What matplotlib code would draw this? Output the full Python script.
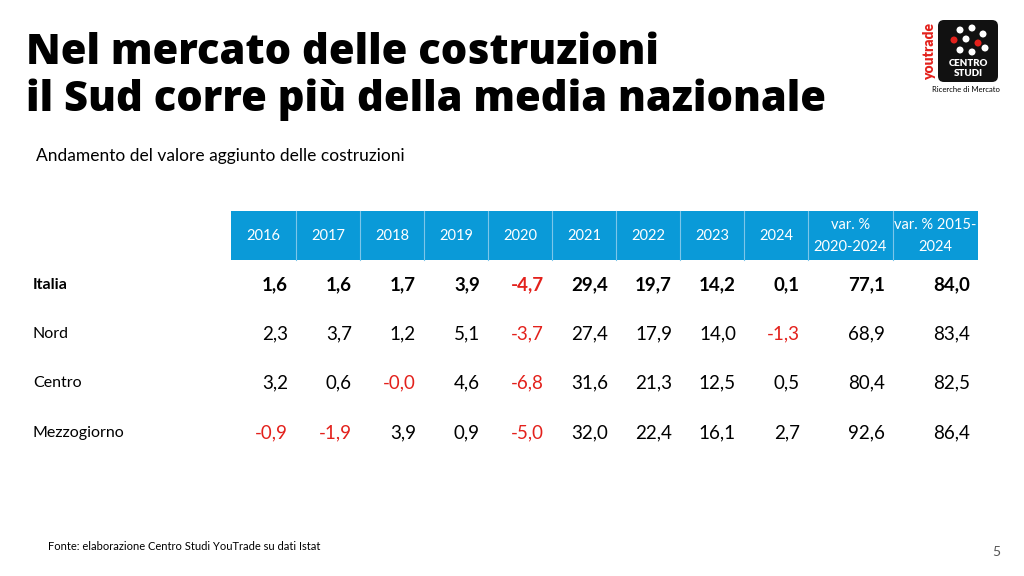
import matplotlib.pyplot as plt
from matplotlib.patches import Rectangle, FancyBboxPatch, Circle

plt.rcParams['font.family'] = ['Lato', 'DejaVu Sans']

headers = ['2016', '2017', '2018', '2019', '2020', '2021', '2022', '2023', '2024',
           'var. %\n2020-2024', 'var. % 2015-\n2024']
rows = ['Italia', 'Nord', 'Centro', 'Mezzogiorno']
italia = [1.6, 1.6, 1.7, 3.9, -4.7, 29.4, 19.7, 14.2, 0.1, 77.1, 84.0]
nord = [2.3, 3.7, 1.2, 5.1, -3.7, 27.4, 17.9, 14.0, -1.3, 68.9, 83.4]
centro = [3.2, 0.6, -0.0, 4.6, -6.8, 31.6, 21.3, 12.5, 0.5, 80.4, 82.5]
mezzogiorno = [-0.9, -1.9, 3.9, 0.9, -5.0, 32.0, 22.4, 16.1, 2.7, 92.6, 86.4]
# the -0,0 in Centro 2018 is shown red in the source
negative_zero = {(2, 2)}

W, H = 1024, 576
fig = plt.figure(figsize=(W / 100, H / 100), dpi=100)
ax = fig.add_axes([0, 0, 1, 1])
ax.set_xlim(0, W)
ax.set_ylim(H, 0)
ax.axis('off')

blue = '#0a9ad8'
red = '#e3211c'

title_font = dict(family=['Open Sans', 'DejaVu Sans'], fontsize=30, fontweight='heavy', va='center')
ax.text(26, 53, 'Nel mercato delle costruzioni', **title_font)
ax.text(26, 100, 'il Sud corre più della media nazionale', **title_font)
ax.text(36, 156, 'Andamento del valore aggiunto delle costruzioni', fontsize=12.5, va='center')

edges = [231, 296, 360, 424, 488, 552, 616, 680, 744, 808, 893, 978]
ax.add_patch(Rectangle((edges[0], 211), edges[-1] - edges[0], 49, color=blue, lw=0))
for i, h in enumerate(headers):
    if i > 0:
        ax.plot([edges[i], edges[i]], [211, 260], color='#7cc6ea', lw=0.8)
    ax.text((edges[i] + edges[i + 1]) / 2, 236, h, color='white', fontsize=10.5,
            ha='center', va='center', linespacing=1.7)

row_y = [285, 334, 383, 433]
for r, (name, vals) in enumerate(zip(rows, [italia, nord, centro, mezzogiorno])):
    bold = 'bold' if r == 0 else 'normal'
    ax.text(33, row_y[r], name, fontsize=11.5, fontweight=bold, va='center')
    for c, v in enumerate(vals):
        neg = v < 0 or (r, c) in negative_zero
        s = f'{abs(v):.1f}'.replace('.', ',')
        if neg:
            s = '-' + s
        ax.text(edges[c + 1] - 8, row_y[r], s, fontsize=13.5, fontweight=bold,
                ha='right', va='center', color=red if neg else 'black')

ax.text(48, 546, 'Fonte: elaborazione Centro Studi YouTrade su dati Istat', fontsize=8, va='center')
ax.text(1000, 552, '5', fontsize=10, color='#555555', ha='right', va='center')

# logo
ax.add_patch(FancyBboxPatch((938, 20), 60, 62, boxstyle='round,pad=0,rounding_size=6',
                            color='#111111', lw=0))
for (cx, cy, col) in [(960, 30, 'white'), (972, 28, 'white'), (983, 34, 'white'),
                      (954, 40, red), (966, 39, 'white'), (978, 43, red),
                      (960, 50, 'white'), (972, 52, 'white'), (985, 48, 'white')]:
    ax.add_patch(Circle((cx, cy), 3.5, color=col, lw=0))
ax.text(968, 64, 'CENTRO', color='white', fontsize=7, fontweight='heavy', ha='center', va='center')
ax.text(968, 74, 'STUDI', color='white', fontsize=7, fontweight='heavy', ha='center', va='center')
ax.text(930, 52, 'youtrade', color=red, fontsize=10, fontweight='heavy', rotation=90,
        ha='center', va='center')
ax.text(966, 89, 'Ricerche di Mercato', fontsize=5.5, ha='center', va='center')

fig.savefig('out.png', dpi=100)
